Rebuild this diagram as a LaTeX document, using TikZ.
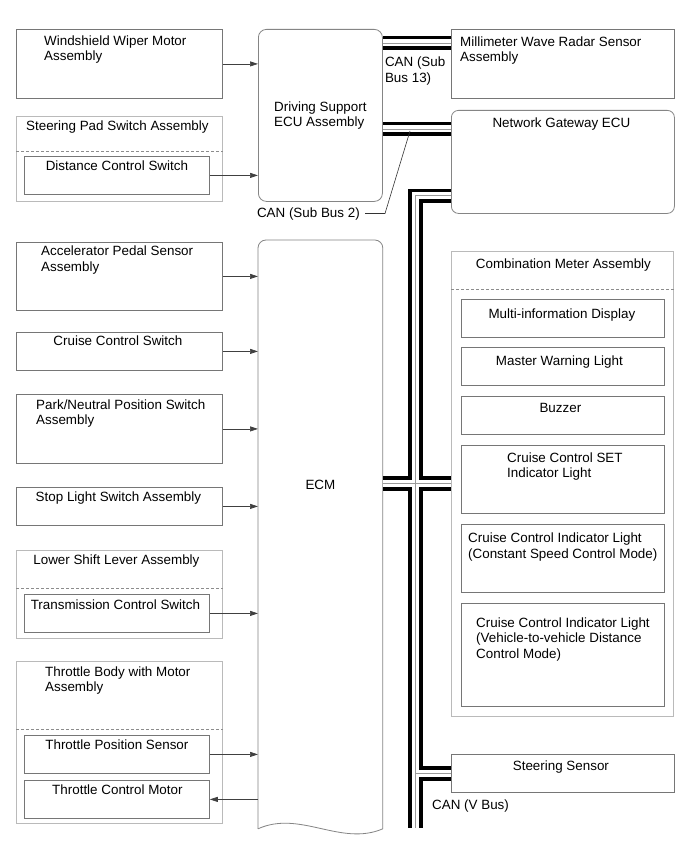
\documentclass[tikz,border=0pt]{standalone}
\usepackage{fontspec}
\setmainfont{Liberation Sans}
\usetikzlibrary{arrows.meta, positioning, calc}
\definecolor{unitdraw}{HTML}{767676}
\definecolor{asmdraw}{HTML}{BABABA}
\definecolor{ecudraw}{HTML}{858585}
\definecolor{sepdraw}{HTML}{8C8C8C}
\definecolor{buscore}{HTML}{9A9A9A}
\tikzset{
  ttl/.style={font=\fontsize{13.4}{15.5}\selectfont, inner sep=0pt, align=left},
  blk/.style={rectangle, anchor=north west, inner sep=0pt, line width=0.8pt},
  unit/.style={blk, draw=unitdraw},
  asm/.style={blk, draw=asmdraw},
  ecu/.style={blk, draw=ecudraw, rounded corners=8pt},
  sep/.style={draw=sepdraw, line width=0.7pt, dash pattern=on 3pt off 2pt},
  arr/.style={-{Triangle[length=8pt, width=5pt]}, line width=0.7pt, draw=black!75},
  bus/.style={draw=black, line width=3.8pt, double=white, double distance=7pt},
  buswire/.style={draw=buscore, line width=0.8pt},
  lead/.style={draw=black!80, line width=0.6pt},
}
\begin{document}
\begin{tikzpicture}[x=1pt, y=-1pt]
  \path[fill=white] (0,0) rectangle (690,853);
  % left column
  \node[unit, minimum width=206pt, minimum height=69pt] (wiper) at (16,29) {};
  \node[ttl, below right=6.5pt and 28pt of wiper.north west] (wipert) {Windshield Wiper Motor\\Assembly};
  \node[asm, minimum width=206pt, minimum height=85pt] (spad) at (16,116) {};
  \node[ttl, below=4.5pt of spad.north, xshift=-2pt] (spadt) {Steering Pad Switch Assembly};
  \draw[sep] ($(spad.north west)+(0,35)$) -- ($(spad.north east)+(0,35)$);
  \node[unit, minimum width=185pt, minimum height=38pt] (dcs) at (24,156) {};
  \node[ttl, below=5pt of dcs.north] (dcst) {Distance Control Switch};

  \node[unit, minimum width=206pt, minimum height=68pt] (accel) at (16,242) {};
  \node[ttl, below right=4pt and 25pt of accel.north west] (accelt) {Accelerator Pedal Sensor\\Assembly};
  \node[unit, minimum width=206pt, minimum height=38pt] (ccsw) at (16,332) {};
  \node[ttl, below=4pt of ccsw.north, xshift=-1.5pt] (ccswt) {Cruise Control Switch};
  \node[unit, minimum width=206pt, minimum height=69pt] (pnp) at (16,394) {};
  \node[ttl, below right=5.5pt and 20pt of pnp.north west] (pnpt) {Park/Neutral Position Switch\\Assembly};
  \node[unit, minimum width=206pt, minimum height=38pt] (stop) at (16,487) {};
  \node[ttl, below=5pt of stop.north, xshift=-1pt] (stopt) {Stop Light Switch Assembly};
  \node[asm, minimum width=206pt, minimum height=88pt] (lsl) at (16,550) {};
  \node[ttl, below=4.5pt of lsl.north, xshift=-3pt] (lslt) {Lower Shift Lever Assembly};
  \draw[sep] ($(lsl.north west)+(0,38)$) -- ($(lsl.north east)+(0,38)$);
  \node[unit, minimum width=185pt, minimum height=38pt] (tcs) at (24,594) {};
  \node[ttl, below=5.5pt of tcs.north, xshift=-1.5pt] (tcst) {Transmission Control Switch};
  \node[asm, minimum width=206pt, minimum height=162pt] (thr) at (16,661) {};
  \node[ttl, below right=5.5pt and 29pt of thr.north west] (thrt) {Throttle Body with Motor\\Assembly};
  \draw[sep] ($(thr.north west)+(0,68)$) -- ($(thr.north east)+(0,68)$);
  \node[unit, minimum width=185pt, minimum height=38pt] (tps) at (24,735) {};
  \node[ttl, below=4.5pt of tps.north] (tpst) {Throttle Position Sensor};
  \node[unit, minimum width=185pt, minimum height=38pt] (tcm) at (24,780) {};
  \node[ttl, below=4.5pt of tcm.north, xshift=0.5pt] (tcmt) {Throttle Control Motor};

  % control units
  \node[ecu, ttl, minimum width=124pt, minimum height=172pt] (dsecu) at (258,29) {Driving Support\\ECU Assembly};
  \node[blk, minimum width=124pt, minimum height=588pt] (ecm) at (258,240) {};
  \draw[draw=ecudraw, line width=0.8pt, rounded corners=8pt] (ecm.south west) -- (ecm.north west) -- (ecm.north east) -- (ecm.south east);
  \draw[draw=ecudraw, line width=0.8pt] (ecm.south east) .. controls +(-42,18) and +(42,-19) .. (ecm.south west);
  \node[ttl] (ecmt) at ($(ecm.center)+(0,-50)$) {ECM};

  % right column
  \node[unit, minimum width=223pt, minimum height=69pt] (radar) at (451,29) {};
  \node[ttl, below right=7.5pt and 9pt of radar.north west] (radart) {Millimeter Wave Radar Sensor\\Assembly};
  \node[ecu, rounded corners=7pt, minimum width=223pt, minimum height=103pt] (gw) at (451,110) {};
  \node[ttl, below=7.5pt of gw.north, xshift=-1.5pt] (gwt) {Network Gateway ECU};
  \node[asm, minimum width=222pt, minimum height=465pt] (comb) at (451,251) {};
  \node[ttl, below=7.5pt of comb.north, xshift=1pt] (combt) {Combination Meter Assembly};
  \draw[sep] ($(comb.north west)+(0,38)$) -- ($(comb.north east)+(0,38)$);
  \node[unit, minimum width=203pt, minimum height=38pt] (mid) at (461,299) {};
  \node[ttl, below=9.5pt of mid.north, xshift=-1pt] (midt) {Multi-information Display};
  \node[unit, minimum width=203pt, minimum height=38pt] (mwl) at (461,347) {};
  \node[ttl, below=8.5pt of mwl.north, xshift=-3.5pt] (mwlt) {Master Warning Light};
  \node[unit, minimum width=203pt, minimum height=38pt] (buzz) at (461,396) {};
  \node[ttl, below=7.5pt of buzz.north, xshift=-2.5pt] (buzzt) {Buzzer};
  \node[unit, minimum width=203pt, minimum height=68pt] (cset) at (461,445) {};
  \node[ttl, below=7.5pt of cset.north, xshift=2pt] (csett) {Cruise Control SET\\Indicator Light};
  \node[unit, minimum width=203pt, minimum height=68pt] (ccsm) at (461,524) {};
  \node[ttl, below right=9pt and 7pt of ccsm.north west] (ccsmt) {Cruise Control Indicator Light\\(Constant Speed Control Mode)};
  \node[unit, minimum width=203pt, minimum height=103pt] (cvdm) at (461,603) {};
  \node[ttl, below right=14.5pt and 15pt of cvdm.north west] (cvdmt) {Cruise Control Indicator Light\\(Vehicle-to-vehicle Distance\\Control Mode)};
  \node[unit, minimum width=223pt, minimum height=38pt] (steer) at (451,754) {};
  \node[ttl, below=6.5pt of steer.north, xshift=-2pt] (steert) {Steering Sensor};

  % signal lines
  \draw[arr] (wiper.east) -- (wiper.east -| dsecu.west);
  \draw[arr] (dcs.east) -- (dcs.east -| dsecu.west);
  \draw[arr] (accel.east) -- (accel.east -| ecm.west);
  \draw[arr] (ccsw.east) -- (ccsw.east -| ecm.west);
  \draw[arr] (pnp.east) -- (pnp.east -| ecm.west);
  \draw[arr] (stop.east) -- (stop.east -| ecm.west);
  \draw[arr] (tcs.east) -- (tcs.east -| ecm.west);
  \draw[arr] (tps.east) -- (tps.east -| ecm.west);
  \draw[arr] (tcm.east -| ecm.west) -- (tcm.east);

  % CAN buses
  \coordinate (b13) at ($(dsecu.north east)+(0,14)$);
  \coordinate (b2) at ($(gw.north west)+(0,19)$);
  \coordinate (vtop) at ($(gw.south west)+(0,-18)$);
  \coordinate (vend) at (415.5,828);
  \coordinate (cmx) at ($(comb.north west)+(0,232.5)$);
  \draw[bus] (b13) -- (b13 -| radar.west);
  \draw[buswire] (b13) -- (b13 -| radar.west);
  \draw[bus] (b2) -- (b2 -| dsecu.east);
  \draw[buswire] (b2) -- (b2 -| dsecu.east);
  \draw[bus] (vtop) -| (vend)
    (cmx -| ecm.east) -- (cmx)
    (steer.west) -- (steer.west -| vend);
  \draw[buswire] (vtop) -| (vend)
    (cmx -| ecm.east) -- (cmx)
    (steer.west) -- (steer.west -| vend);
  \node[ttl, below right=14pt and 2pt of b13] (b13t) {CAN (Sub\\Bus 13)};
  \node[ttl, anchor=base east] (b2t) at (360,217) {CAN (Sub Bus 2)};
  \coordinate (b2tap) at ($(b2)+(-41,2)$);
  \draw[lead] ([xshift=5pt]b2t.east) -- ++(20,0) -- (b2tap);
  \node[ttl, anchor=west] (vbust) at (432,806) {CAN (V Bus)};
\end{tikzpicture}
\end{document}
